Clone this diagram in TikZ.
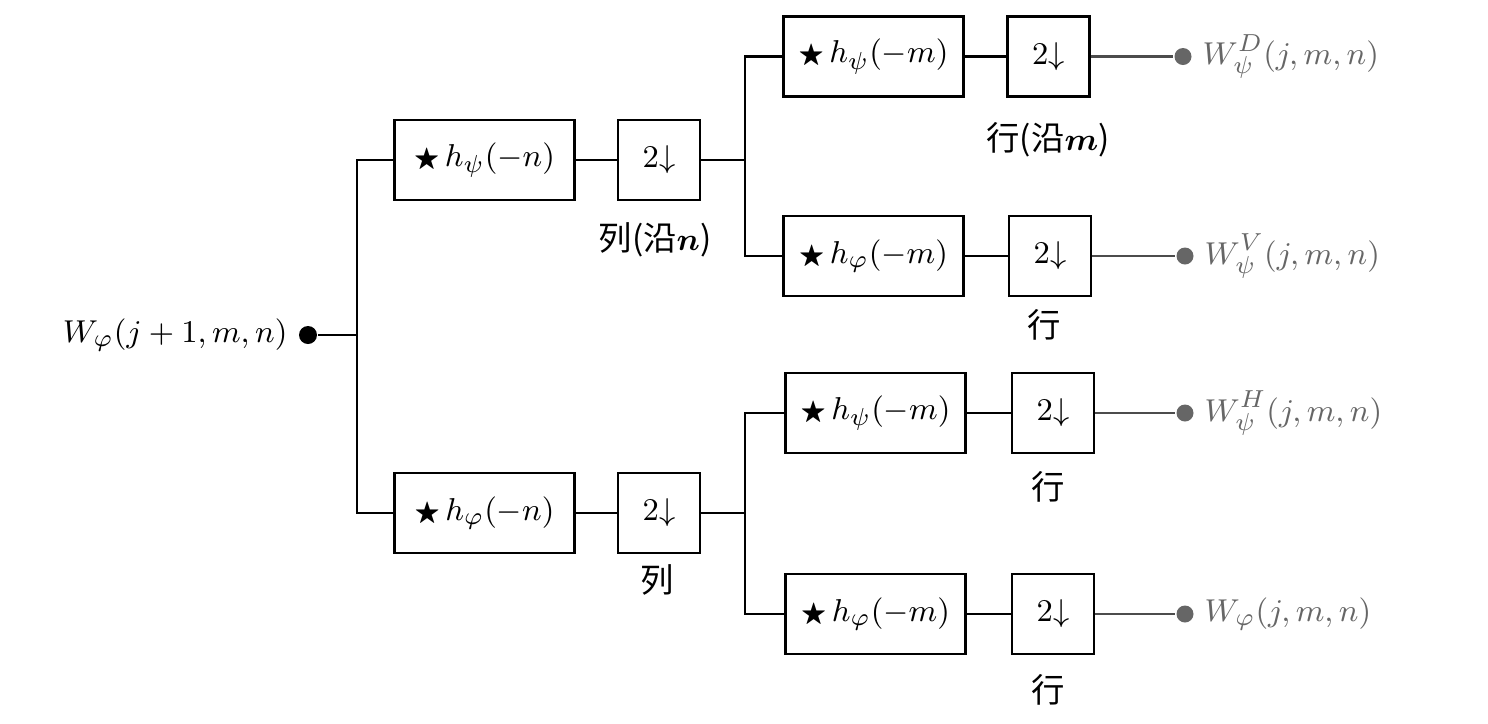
\documentclass[tikz,border=0pt]{standalone}
\usepackage{amssymb}
\usepackage{fontspec}
\newfontfamily\cjk{Noto Sans CJK SC}
\usetikzlibrary{positioning}

\newcommand{\filtstar}{\scalebox{0.8}{$\bigstar$}\,}

\begin{document}
\begin{tikzpicture}[line width=0.6pt, font=\fontsize{9.5}{11}\selectfont,
    filt/.style={draw, rectangle, minimum width=1.8cm, minimum height=0.8cm},
    down/.style={draw, rectangle, minimum width=0.82cm, minimum height=0.8cm},
    dotin/.style={circle, fill=black, inner sep=0pt, minimum size=0.18cm},
    dotout/.style={circle, fill=black!60, inner sep=0pt, minimum size=0.17cm},
    outtext/.style={anchor=west, text=black!60, inner sep=1pt},
    dirlabel/.style={font=\fontsize{9.5}{11}\selectfont\cjk}]
        \useasboundingbox (0,0) rectangle (14.88,-7.24);

        % input
        \node[dotin] (in) at (3.08,-3.35) {};
        \node[anchor=east, inner sep=1pt] (intext) at (2.92,-3.35) {$W_{\varphi}(j+1, m, n)$};
        \coordinate (s1) at (3.57,-3.35);

        % column filters
        \node[filt] (fpsi) at (4.845,-1.60) {\filtstar$h_{\psi}(-n)$};
        \node[down] (dpsi) at (6.59,-1.60) {$2{\downarrow}$};
        \node[dirlabel] (lab1) at (6.55,-2.40) {列(沿\mbox{\boldmath$n$})};
        \coordinate (j1) at (7.45,-1.60);

        \node[filt] (fphi) at (4.845,-5.13) {\filtstar$h_{\varphi}(-n)$};
        \node[down] (dphi) at (6.59,-5.13) {$2{\downarrow}$};
        \node[dirlabel] (lab2) at (6.57,-5.80) {列};
        \coordinate (j2) at (7.45,-5.13);

        % row filters
        \node[filt] (fD) at (8.735,-0.565) {\filtstar$h_{\psi}(-m)$};
        \node[down] (dD) at (10.485,-0.565) {$2{\downarrow}$};
        \node[dirlabel] (labD) at (10.48,-1.40) {行(沿\mbox{\boldmath$m$})};

        \node[filt] (fV) at (8.735,-2.56) {\filtstar$h_{\varphi}(-m)$};
        \node[down] (dV) at (10.50,-2.56) {$2{\downarrow}$};
        \node[dirlabel] (labV) at (10.44,-3.25) {行};

        \node[filt] (fH) at (8.755,-4.13) {\filtstar$h_{\psi}(-m)$};
        \node[down] (dH) at (10.53,-4.13) {$2{\downarrow}$};
        \node[dirlabel] (labH) at (10.48,-4.87) {行};

        \node[filt] (fA) at (8.755,-6.14) {\filtstar$h_{\varphi}(-m)$};
        \node[down] (dA) at (10.53,-6.14) {$2{\downarrow}$};
        \node[dirlabel] (labA) at (10.48,-6.90) {行};

        % outputs
        \node[dotout] (oD) at (11.83,-0.565) {};
        \node[outtext] (tD) at (11.98,-0.565) {$W_{\psi}^{D}(j, m, n)$};
        \node[dotout] (oV) at (11.85,-2.56) {};
        \node[outtext] (tV) at (12.00,-2.56) {$W_{\psi}^{V}(j, m, n)$};
        \node[dotout] (oH) at (11.85,-4.13) {};
        \node[outtext] (tH) at (12.00,-4.13) {$W_{\psi}^{H}(j, m, n)$};
        \node[dotout] (oA) at (11.85,-6.14) {};
        \node[outtext] (tA) at (12.00,-6.14) {$W_{\varphi}(j, m, n)$};

        % connectors
        \draw (in) -- (s1);
        \draw (s1) |- (fpsi.west);
        \draw (s1) |- (fphi.west);
        \draw (fpsi) -- (dpsi);
        \draw (fphi) -- (dphi);
        \draw (dpsi) -- (j1);
        \draw (dphi) -- (j2);
        \draw (j1) |- (fD.west);
        \draw (j1) |- (fV.west);
        \draw (j2) |- (fH.west);
        \draw (j2) |- (fA.west);
        \draw (fD) -- (dD);
        \draw (fV) -- (dV);
        \draw (fH) -- (dH);
        \draw (fA) -- (dA);
        \draw[black!70] (dD) -- (oD);
        \draw[black!70] (dV) -- (oV);
        \draw[black!70] (dH) -- (oH);
        \draw[black!70] (dA) -- (oA);
    \end{tikzpicture}
\end{document}
